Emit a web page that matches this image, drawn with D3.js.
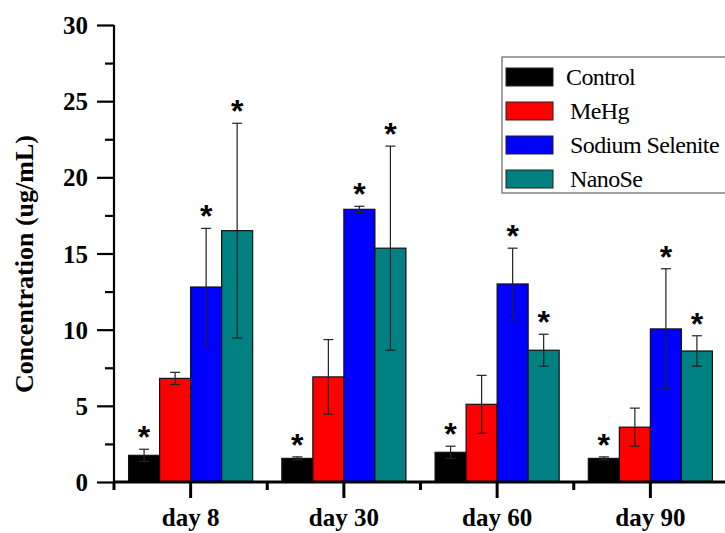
<!DOCTYPE html>
<meta charset="utf-8">
<style>
body { margin: 0; background: #fff; }
.axis path, .axis line { stroke: #000; }
</style>
<body>
<svg width="725" height="533" font-family="'Liberation Serif', 'Times New Roman', serif"></svg>
<script src="https://cdn.jsdelivr.net/npm/d3@7"></script>
<script>
var days = ["day 8", "day 30", "day 60", "day 90"];
var series = ["Control", "MeHg", "Sodium Selenite", "NanoSe"];
var colors = ["#000000", "#ff0000", "#0000ff", "#008080"];

// mean values per series, one entry per day
var control = [1.75, 1.55, 1.95, 1.55];
var mehg = [6.8, 6.9, 5.1, 3.6];
var selenite = [12.8, 17.9, 13.0, 10.05];
var nanose = [16.5, 15.35, 8.65, 8.6];

// error (± SD)
var controlErr = [0.4, 0.1, 0.4, 0.1];
var mehgErr = [0.4, 2.45, 1.9, 1.25];
var seleniteErr = [3.85, 0.2, 2.35, 3.95];
var nanoseErr = [7.05, 6.7, 1.05, 1.0];

// significance marks
var controlStar = [true, true, true, true];
var mehgStar = [false, false, false, false];
var seleniteStar = [true, true, true, true];
var nanoseStar = [true, true, true, true];

var yMajor = [0, 5, 10, 15, 20, 25, 30];
var yMinor = [2.5, 7.5, 12.5, 17.5, 22.5, 27.5];

var values = [control, mehg, selenite, nanose];
var errs = [controlErr, mehgErr, seleniteErr, nanoseErr];
var stars = [controlStar, mehgStar, seleniteStar, nanoseStar];

var data = [];
days.forEach(function(d, i) {
  series.forEach(function(s, j) {
    data.push({day: d, s: s, v: values[j][i], e: errs[j][i], star: stars[j][i], c: colors[j]});
  });
});

var serif = "'Liberation Serif', 'Times New Roman', serif";
var svg = d3.select("svg");
var mLeft = 114, mRight = 727, mTop = 25, mBottom = 482;

var x0 = d3.scaleBand().domain(days).range([mLeft, mRight]);
var x1 = d3.scaleBand().domain(series).range([0, x0.bandwidth()]).paddingOuter(0.47);
var y = d3.scaleLinear().domain([0, 30]).range([mBottom, mTop]);

// bars
svg.append("g").selectAll("rect")
  .data(data)
  .enter().append("rect")
    .attr("x", function(d) { return x0(d.day) + x1(d.s); })
    .attr("y", function(d) { return y(d.v); })
    .attr("width", x1.bandwidth())
    .attr("height", function(d) { return y(0) - y(d.v); })
    .attr("fill", function(d) { return d.c; })
    .attr("stroke", "#111")
    .attr("stroke-width", 1.2);

// error bars
var eb = svg.append("g").selectAll("g")
  .data(data)
  .enter().append("g")
    .attr("transform", function(d) { return "translate(" + (x0(d.day) + x1(d.s) + x1.bandwidth() / 2) + ",0)"; })
    .attr("stroke", "#222")
    .attr("stroke-width", 1.2);
eb.append("line")
  .attr("y1", function(d) { return y(d.v - d.e); })
  .attr("y2", function(d) { return y(d.v + d.e); });
eb.append("line").attr("x1", -5).attr("x2", 5)
  .attr("y1", function(d) { return y(d.v + d.e); })
  .attr("y2", function(d) { return y(d.v + d.e); });
eb.append("line").attr("x1", -5).attr("x2", 5)
  .attr("y1", function(d) { return y(d.v - d.e); })
  .attr("y2", function(d) { return y(d.v - d.e); });

// asterisks
svg.append("g").selectAll("text")
  .data(data.filter(function(d) { return d.star; }))
  .enter().append("text")
    .attr("x", function(d) { return x0(d.day) + x1(d.s) + x1.bandwidth() / 2; })
    .attr("y", function(d) { return y(d.v + d.e) - 1; })
    .attr("text-anchor", "middle")
    .style("font-family", "'Liberation Sans', Arial, sans-serif")
    .style("font-weight", "bold")
    .style("font-size", "32px")
    .text("*");

function boldText(g) {
  g.selectAll("text")
    .style("font-family", serif)
    .style("font-size", "25px")
    .style("font-weight", "bold")
    .attr("fill", "#000");
}

// y axis
svg.append("g")
  .attr("class", "axis")
  .attr("transform", "translate(" + mLeft + ",0)")
  .call(d3.axisLeft(y).tickValues(yMajor).tickSize(17).tickPadding(9).tickFormat(d3.format("d")))
  .call(function(g) { g.select(".domain").attr("stroke-width", 2.2).attr("d", "M0," + mTop + "V" + mBottom); })
  .call(function(g) { g.selectAll(".tick line").attr("stroke-width", 2.2); })
  .call(function(g) { g.selectAll(".tick text").attr("dy", "0.34em"); })
  .call(boldText);

svg.append("g")
  .attr("class", "axis")
  .attr("transform", "translate(" + mLeft + ",0)")
  .call(d3.axisLeft(y).tickValues(yMinor).tickSize(9).tickFormat(""))
  .call(function(g) { g.select(".domain").remove(); })
  .call(function(g) { g.selectAll(".tick line").attr("stroke-width", 2.2); });

// x axis
svg.append("g")
  .attr("class", "axis")
  .attr("transform", "translate(0," + mBottom + ")")
  .call(d3.axisBottom(x0).tickSize(16).tickPadding(10))
  .call(function(g) { g.select(".domain").attr("stroke-width", 3).attr("d", "M" + mLeft + ",0H" + 725); })
  .call(function(g) { g.selectAll(".tick line").attr("stroke-width", 3); })
  .call(boldText);

svg.append("g")
  .attr("class", "axis")
  .attr("transform", "translate(0," + mBottom + ")")
  .selectAll("line")
  .data(days.concat(["end"]))
  .enter().append("line")
    .attr("x1", function(d, i) { return mLeft + i * x0.step(); })
    .attr("x2", function(d, i) { return mLeft + i * x0.step(); })
    .attr("y1", 0).attr("y2", 8)
    .attr("stroke-width", 3);

// y label
svg.append("text")
  .attr("transform", "translate(33,264) rotate(-90)")
  .attr("text-anchor", "middle")
  .style("font-family", serif)
  .style("font-size", "26px")
  .style("font-weight", "bold")
  .text("Concentration (ug/mL)");

// legend
var lg = svg.append("g");
lg.append("rect")
  .attr("x", 502).attr("y", 57).attr("width", 240).attr("height", 136)
  .attr("fill", "#fff").attr("stroke", "#666").attr("stroke-width", 1.2);
series.forEach(function(s, i) {
  lg.append("rect")
    .attr("x", 506).attr("y", 68 + i * 34).attr("width", 47).attr("height", 18)
    .attr("fill", colors[i]).attr("stroke", "#222").attr("stroke-width", 1);
  lg.append("text")
    .attr("x", i === 0 ? 566 : 570).attr("y", 85 + i * 34)
    .style("font-family", serif)
    .style("font-size", "24px")
    .style("letter-spacing", "-0.6px")
    .text(s);
});
</script>
</body>
